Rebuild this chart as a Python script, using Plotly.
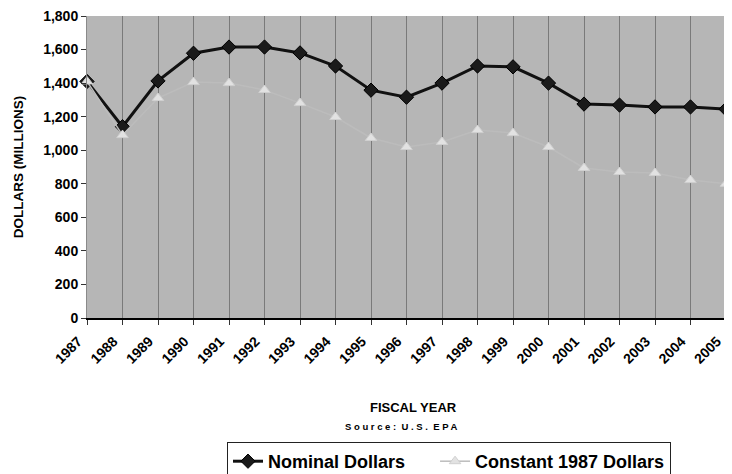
import plotly.graph_objects as go

years = list(range(1987, 2006))
nominal = [1410, 1140, 1413, 1578, 1615, 1615, 1580, 1502, 1358, 1316, 1400,
           1502, 1497, 1400, 1275, 1269, 1258, 1258, 1245]
constant_1987 = [1410, 1090, 1311, 1406, 1400, 1359, 1281, 1198, 1073, 1019, 1049,
                 1120, 1102, 1019, 894, 870, 864, 822, 800]
y_ticks = [0, 200, 400, 600, 800, 1000, 1200, 1400, 1600, 1800]

FONT = "Liberation Sans, Arial, sans-serif"

# page body has an 8px margin; compensate so the plot sits where the reference has it
L, T, R, B = 79, 8, 14, 164
PW = 732 - L - R
PH = 474 - T - B

fig = go.Figure()
fig.add_trace(go.Scatter(
    x=years, y=nominal, name="<b>Nominal Dollars</b>" + "&nbsp;" * 5, mode="lines+markers",
    line=dict(color="#111111", width=3),
    marker=dict(symbol="diamond", size=11, color="#1a1a1a",
                line=dict(color="#000000", width=1)),
    cliponaxis=False,
))
fig.add_trace(go.Scatter(
    x=years, y=constant_1987, name="<b>Constant 1987 Dollars</b>", mode="lines+markers",
    line=dict(color="#bcbcbc", width=1.5),
    marker=dict(symbol="triangle-up", size=10, color="#e2e2e2",
                line=dict(color="#d0d0d0", width=1)),
    cliponaxis=False,
))

fig.update_layout(
    width=732, height=474,
    margin=dict(l=L, r=R, t=T, b=B, autoexpand=False),
    paper_bgcolor="white",
    plot_bgcolor="#b6b6b6",
    font=dict(family=FONT, color="#000000"),
    showlegend=True,
    legend=dict(
        orientation="h", x=(219 - L) / PW, xanchor="left",
        yref="container", y=1 - 434 / 474, yanchor="top",
        font=dict(size=18, family=FONT, color="#000000"),
        bordercolor="#222222", borderwidth=1, bgcolor="white",
        itemwidth=30, tracegroupgap=0,
    ),
    xaxis=dict(
        range=[1987, 2005],
        tickvals=years, ticktext=[str(y) for y in years],
        tickangle=-45,
        tickfont=dict(size=14, family=FONT, weight="bold"),
        ticks="outside", ticklen=5, tickcolor="#333333",
        ticklabelshift=-9, ticklabelstandoff=3,
        showline=True, linecolor="#000000", linewidth=1.5,
        showgrid=True, gridcolor="#7a7a7a", gridwidth=1,
        zeroline=False, automargin=False, ticklabeloverflow="allow",
    ),
    yaxis=dict(
        range=[0, 1800], tickvals=y_ticks, tickformat=",",
        tickfont=dict(size=14, family=FONT, weight="bold"),
        ticks="outside", ticklen=5, tickcolor="#333333",
        showline=True, linecolor="#8a8a8a", linewidth=1,
        showgrid=False, zeroline=False, automargin=False, ticklabeloverflow="allow",
        title=dict(text="<b>DOLLARS (MILLIONS)</b>",
                   font=dict(size=13.5, family=FONT), standoff=16),
    ),
)
fig.add_annotation(
    text="<b>FISCAL YEAR</b>", x=(405 - L) / PW, xref="paper",
    y=-0.296, yref="paper", showarrow=False,
    font=dict(size=13, family=FONT), xanchor="center", yanchor="middle",
)
fig.add_annotation(
    text="<b>S o u r c e :  U . S .  E P A</b>", x=(393 - L) / PW, xref="paper",
    y=-0.358, yref="paper", showarrow=False,
    font=dict(size=9.5, family=FONT), xanchor="center", yanchor="middle",
)

fig.write_html("out.html")
